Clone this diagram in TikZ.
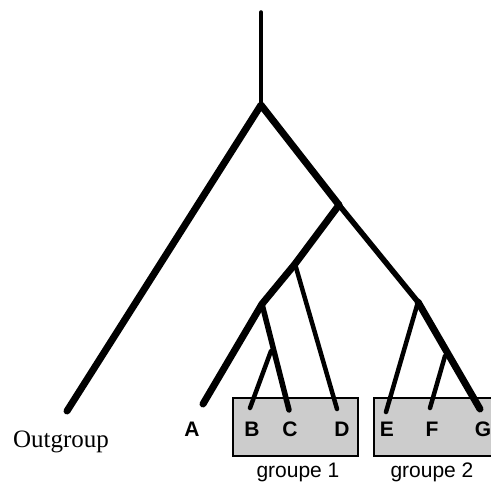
\documentclass[tikz,border=0pt]{standalone}
\usepackage{fontspec}
\setmainfont{Liberation Serif}
\setsansfont{Liberation Sans}
\begin{document}
\begin{tikzpicture}[x=1pt,y=-1pt,
  br/.style={line width=5.5pt,line cap=round,line join=round},
  thick br/.style={line width=7pt,line cap=round,line join=round},
  thin br/.style={line width=4.5pt,line cap=round},
  stem/.style={line width=3.5pt,line cap=round},
  grp/.style={draw=black,line width=1.2pt,fill=black!20},
  leaf/.style={font=\sffamily\bfseries\fontsize{21}{21}\selectfont,anchor=base,inner sep=0pt},
  glab/.style={font=\sffamily\fontsize{21}{21}\selectfont,anchor=base,inner sep=0pt}]
\useasboundingbox (0,0) rectangle (491,486);
% group boxes
\draw[grp] (233,398) rectangle (358,456);
\draw[grp] (374,398) rectangle (497,456);
% coordinates
\coordinate (top) at (261,12);
\coordinate (root) at (261,105);
\coordinate (n1) at (339,205);
\coordinate (n2) at (295,264);
\coordinate (n3) at (262,304);
\coordinate (n5) at (271,351);
\coordinate (n4) at (418,302);
\coordinate (n6) at (445,356);
\coordinate (og) at (67,411);
\coordinate (a) at (203,404);
\coordinate (b) at (250,408);
\coordinate (c) at (289,410);
\coordinate (d) at (337,409);
\coordinate (e) at (386,412);
\coordinate (f) at (430,408);
\coordinate (g) at (480,409);
% tree
\draw[stem] (top) -- (root);
\draw[thick br] (og) -- (root) -- (n1);
\draw[thick br] (n1) -- (n2) -- (n3) -- (a);
\draw[br] (n1) -- (n4);
\draw[thin br] (n2) -- (d);
\draw[br] (n3) -- (c);
\draw[thin br] (n5) -- (b);
\draw[thin br] (n4) -- (e);
\draw[thick br] (n4) -- (g);
\draw[thin br] (n6) -- (f);
% labels
\node[font=\fontsize{25}{25}\selectfont,anchor=base,inner sep=0pt] (lo) at (61,448) {Outgroup};
\node[leaf] (la) at (192,437) {A};
\node[leaf] (lb) at (252,437) {B};
\node[leaf] (lc) at (290,437) {C};
\node[leaf] (ld) at (342,437) {D};
\node[leaf] (le) at (387,437) {E};
\node[leaf] (lf) at (432,437) {F};
\node[leaf] (lg) at (483,437) {G};
\node[glab] (g1) at (298,478) {groupe 1};
\node[glab] (g2) at (432,478) {groupe 2};
\end{tikzpicture}
\end{document}
